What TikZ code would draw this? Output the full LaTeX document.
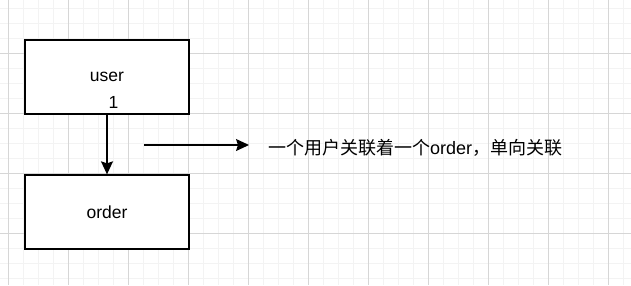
\documentclass[tikz,border=0pt]{standalone}
\usepackage{fontspec}
\setmainfont{Liberation Sans}
\newfontfamily\cjk{Noto Sans CJK SC}
\usepackage{xcolor}
\definecolor{vizGridMinor}{HTML}{F3F3F3}
\definecolor{vizGridMajor}{HTML}{D6D6D6}
\definecolor{vizEdge}{HTML}{000000}
\usetikzlibrary{arrows.meta}

\tikzset{
  entitybox/.style={draw=vizEdge, line width=1.3pt, fill=white,
    minimum width=164pt, minimum height=74pt, inner sep=0pt,
    font=\fontsize{17.5}{21}\selectfont},
  plainlabel/.style={inner sep=0pt, font=\fontsize{17.5}{21}\selectfont},
  linkarrow/.style={draw=vizEdge, line width=1.3pt,
    -{Stealth[length=13pt,width=12pt,inset=2pt]}}
}

\begin{document}
\begin{tikzpicture}[x=1pt, y=-1pt]
  \useasboundingbox (0,0) rectangle (631,285);
  \fill[white] (0,0) rectangle (631,285);
  % grid
  \foreach \gx in {8,23,...,623} {
    \draw[vizGridMinor, line width=1pt] (\gx,0) -- (\gx,285);
  }
  \foreach \gy in {8,23,...,278} {
    \draw[vizGridMinor, line width=1pt] (0,\gy) -- (631,\gy);
  }
  \foreach \gx in {8,68,...,608} {
    \draw[vizGridMajor, line width=1pt] (\gx,0) -- (\gx,285);
  }
  \foreach \gy in {53,113,...,233} {
    \draw[vizGridMajor, line width=1pt] (0,\gy) -- (631,\gy);
  }
  % entities
  \node[entitybox] (user) at (107,77) {user};
  \node[entitybox] (order) at (107,212) {order};
  \node[plainlabel] (userMult) at (113.5,102.5) {1};
  \draw[linkarrow] (user.south) -- (order.north);
  % note
  \node[plainlabel, anchor=west, font=\fontsize{18}{22}\selectfont] (note) at (268,148)
    {{\cjk 一个用户关联着一个}order{\cjk ，单向关联}};
  \coordinate (noteStart) at (144,145);
  \coordinate (noteEnd) at (249,145);
  \draw[linkarrow] (noteStart) -- (noteEnd);
\end{tikzpicture}
\end{document}
